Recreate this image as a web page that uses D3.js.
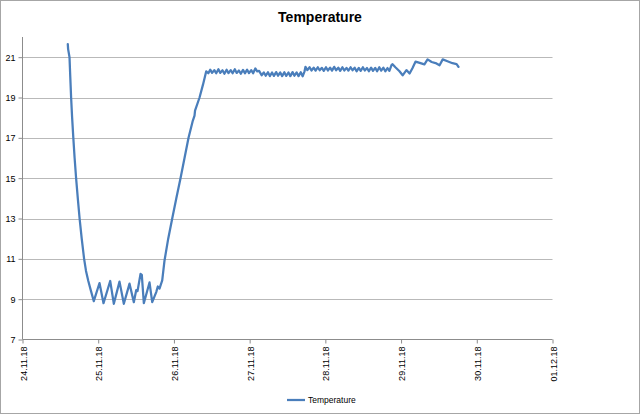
<!DOCTYPE html>
<html>
<head>
<meta charset="utf-8">
<script src="https://cdn.jsdelivr.net/npm/d3@7"></script>
<style>
  html, body { margin: 0; padding: 0; background: #fff; }
  svg { display: block; }
  text { font-family: "Liberation Sans", Arial, sans-serif; }
</style>
</head>
<body>
<svg id="chart" width="640" height="414"></svg>
<script>
// ---- data (hours since 24.11.18 00:00, temperature) ----
const hours = [
  14.36, 14.46, 14.90, 15.15, 15.41, 15.73, 16.11, 16.52, 16.99, 17.53, 18.10, 18.77, 19.53, 20.13, 20.86, 21.72, 22.60,
  24.41, 25.68, 27.80, 28.95, 30.75, 32.12, 33.93, 35.29, 36.05, 36.46, 37.41, 37.82, 38.46, 40.26, 41.12, 42.39, 42.89, 43.43, 44.29, 45.02,
  46.19, 47.46, 48.76, 50.09, 51.36, 52.63, 53.90, 54.53, 54.69, 56.12, 57.23, 58.24,
  58.9, 59.5, 60.1, 60.8, 61.4, 62.1, 62.7, 63.4, 64.0, 64.7, 65.3, 66.0, 66.6, 67.3, 67.9, 68.6, 69.2, 69.9, 70.5, 71.2, 71.8, 72.5, 73.1, 73.8, 74.4, 75.0, 75.8,
  76.5, 77.1, 77.8, 78.4, 79.1, 79.7, 80.4, 81.0, 81.7, 82.3, 83.0, 83.6, 84.3, 84.9, 85.6, 86.2, 86.9, 87.5, 88.2, 88.8, 89.4, 89.7,
  90.3, 91.0, 91.6, 92.3, 92.9, 93.6, 94.2, 94.9, 95.5, 96.2, 96.8, 97.5, 98.1, 98.8, 99.4, 100.1, 100.7, 101.4, 102.0, 102.7, 103.3, 104.0, 104.6, 105.3, 105.9, 106.6, 107.2, 107.9, 108.5, 109.2, 109.8, 110.5, 111.1, 111.8, 112.4, 113.1, 113.7, 114.4, 115.0, 115.7, 116.3, 117.0, 117.3,
  118.2, 119.5, 120.5, 121.7, 122.7, 123.6, 124.6, 125.9, 127.4, 128.4, 129.7, 131.2, 132.2, 133.2, 134.7, 136.3, 137.6, 138.2
];
const temps = [
  21.65, 21.4, 21.0, 20.0, 19.0, 18.0, 17.0, 16.0, 15.0, 14.0, 13.0, 12.0, 11.0, 10.4, 9.9, 9.4, 8.9,
  9.8, 8.8, 9.9, 8.77, 9.87, 8.77, 9.77, 8.85, 9.45, 9.4, 10.25, 10.2, 8.8, 9.83, 8.85, 9.35, 9.63, 9.52, 9.93, 10.92,
  12, 13, 14, 15, 16, 17, 17.8, 18.1, 18.35, 19.0, 19.65, 20.3,
  20.2, 20.38, 20.22, 20.36, 20.2, 20.4, 20.22, 20.35, 20.18, 20.38, 20.21, 20.36, 20.2, 20.4, 20.22, 20.34, 20.18, 20.37, 20.2, 20.38, 20.21, 20.36, 20.2, 20.44, 20.3, 20.32, 20.1,
  20.24, 20.08, 20.25, 20.06, 20.24, 20.07, 20.26, 20.08, 20.24, 20.06, 20.25, 20.07, 20.24, 20.06, 20.26, 20.08, 20.24, 20.06, 20.25, 20.05, 20.3, 20.52,
  20.36, 20.5, 20.34, 20.48, 20.33, 20.5, 20.35, 20.47, 20.32, 20.5, 20.34, 20.48, 20.33, 20.52, 20.35, 20.48, 20.32, 20.5, 20.34, 20.47, 20.33, 20.5, 20.35, 20.48, 20.3, 20.47, 20.32, 20.5, 20.34, 20.46, 20.3, 20.48, 20.32, 20.47, 20.3, 20.5, 20.33, 20.48, 20.3, 20.46, 20.32, 20.62, 20.65,
  20.5, 20.3, 20.1, 20.36, 20.19, 20.45, 20.78, 20.72, 20.64, 20.89, 20.76, 20.69, 20.6, 20.89, 20.8, 20.7, 20.66, 20.52
];
const dayTicks = ["24.11.18", "25.11.18", "26.11.18", "27.11.18", "28.11.18", "29.11.18", "30.11.18", "01.12.18"];
const yTicks = [7, 9, 11, 13, 15, 17, 19, 21];
const seriesName = "Temperature";
const titleText = "Temperature";

// ---- build ----
const parseDay = d3.timeParse("%d.%m.%y");
const start = parseDay(dayTicks[0]);
const data = hours.map((h, i) => ({ t: new Date(start.getTime() + h * 3600e3), v: temps[i] }));
const dayDates = dayTicks.map(parseDay);

const svg = d3.select("#chart");
const W = 640, H = 414;
const plot = { left: 22.5, right: 552.5, top: 37, bottom: 339.5 };

svg.append("rect").attr("x", 0.5).attr("y", 0.5).attr("width", W - 1).attr("height", H - 1)
  .attr("fill", "#fff").attr("stroke", "#a6a6a6");

const x = d3.scaleTime().domain([dayDates[0], dayDates[dayDates.length - 1]]).range([plot.left, plot.right]);
const y = d3.scaleLinear().domain([7, 22]).range([plot.bottom, plot.top]);

// gridlines
svg.append("g").selectAll("line").data(yTicks.filter(v => v > 7)).join("line")
  .attr("x1", plot.left).attr("x2", plot.right)
  .attr("y1", d => Math.round(y(d)) + 0.5).attr("y2", d => Math.round(y(d)) + 0.5)
  .attr("stroke", "#b9b9b9").attr("stroke-width", 1);

// y axis
const yAxis = svg.append("g").attr("transform", `translate(${plot.left},0)`)
  .call(d3.axisLeft(y).tickValues(yTicks).tickSize(4).tickSizeOuter(0).tickFormat(d3.format("d")));
yAxis.select(".domain").attr("stroke", "#8c8c8c").attr("d", `M0,${plot.top}V${plot.bottom}`);
yAxis.selectAll(".tick line").attr("stroke", "#8c8c8c");
yAxis.selectAll(".tick text").attr("font-size", 9).attr("fill", "#000").attr("x", -7)
  .attr("font-family", "'Liberation Sans', Arial, sans-serif");

// x axis
const xAxis = svg.append("g").attr("transform", `translate(0,${plot.bottom})`)
  .call(d3.axisBottom(x).tickValues(dayDates).tickSize(4).tickSizeOuter(0).tickFormat(d3.timeFormat("%d.%m.%y")));
xAxis.select(".domain").attr("stroke", "#8c8c8c").attr("d", `M${plot.left},0H${plot.right}`);
xAxis.selectAll(".tick line").attr("stroke", "#8c8c8c");
xAxis.selectAll(".tick text")
  .attr("font-size", 9).attr("fill", "#000")
  .attr("font-family", "'Liberation Sans', Arial, sans-serif")
  .attr("text-anchor", "end")
  .attr("dy", null)
  .attr("y", 0)
  .attr("transform", "translate(3.5,7) rotate(-90)");

// line
svg.append("path").datum(data)
  .attr("fill", "none").attr("stroke", "#4a7ebb").attr("stroke-width", 2.25)
  .attr("stroke-linejoin", "round").attr("stroke-linecap", "round")
  .attr("d", d3.line().x(d => x(d.t)).y(d => y(d.v)));

// title
svg.append("text").attr("x", 320).attr("y", 22).attr("text-anchor", "middle")
  .attr("font-size", 14).attr("font-weight", "bold").attr("fill", "#000").text(titleText);

// legend
const lg = svg.append("g");
lg.append("line").attr("x1", 287).attr("x2", 305).attr("y1", 400).attr("y2", 400)
  .attr("stroke", "#4a7ebb").attr("stroke-width", 2.25);
lg.append("text").attr("x", 308).attr("y", 403).attr("font-size", 8.5).attr("fill", "#000").text(seriesName);
</script>
</body>
</html>
